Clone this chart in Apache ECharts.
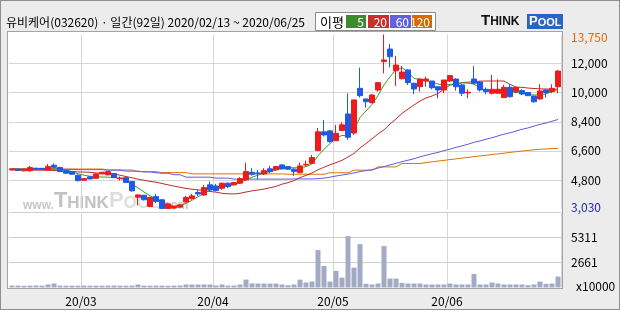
<!DOCTYPE html>
<html><head><meta charset="utf-8">
<script src="https://cdn.jsdelivr.net/npm/echarts@6/dist/echarts.min.js"></script>
<style>
html,body{margin:0;padding:0;background:#ececec;}
#wrap{position:relative;width:620px;height:310px;overflow:hidden;}
#outer{position:absolute;left:0;top:0;width:618px;height:308px;border:1px solid #8e8e8e;background:#ececec;}
#frame{position:absolute;left:7px;top:31px;width:554px;height:256px;border:1px solid #a4a4a4;background:#fff;}
#c{position:absolute;left:0;top:0;width:620px;height:310px;}
</style>
</head><body><div id="wrap"><div id="outer"></div><div id="frame"></div><div id="c"></div></div>
<script>
const dates = [
'2020-02-13','2020-02-14','2020-02-17','2020-02-18','2020-02-19','2020-02-20','2020-02-21','2020-02-24','2020-02-25','2020-02-26','2020-02-27','2020-02-28',
'2020-03-02','2020-03-03','2020-03-04','2020-03-05','2020-03-06','2020-03-09','2020-03-10','2020-03-11','2020-03-12','2020-03-13','2020-03-16','2020-03-17','2020-03-18','2020-03-19','2020-03-20','2020-03-23','2020-03-24','2020-03-25','2020-03-26','2020-03-27','2020-03-30','2020-03-31',
'2020-04-01','2020-04-02','2020-04-03','2020-04-06','2020-04-07','2020-04-08','2020-04-09','2020-04-10','2020-04-13','2020-04-14','2020-04-16','2020-04-17','2020-04-20','2020-04-21','2020-04-22','2020-04-23','2020-04-24','2020-04-27','2020-04-28','2020-04-29',
'2020-05-04','2020-05-06','2020-05-07','2020-05-08','2020-05-11','2020-05-12','2020-05-13','2020-05-14','2020-05-15','2020-05-18','2020-05-19','2020-05-20','2020-05-21','2020-05-22','2020-05-25','2020-05-26','2020-05-27','2020-05-28','2020-05-29',
'2020-06-01','2020-06-02','2020-06-03','2020-06-04','2020-06-05','2020-06-08','2020-06-09','2020-06-10','2020-06-11','2020-06-12','2020-06-15','2020-06-16','2020-06-17','2020-06-18','2020-06-19','2020-06-22','2020-06-23','2020-06-24','2020-06-25'];

const opens = [5430,5480,5380,5380,5540,5530,5440,5720,5580,5390,
5330,5110,4800,5010,4920,5190,5130,5210,4900,4960,
4720,3760,3880,3190,3800,3600,3070,3090,3150,3470,
3680,4050,3900,4520,4450,4310,4620,4520,4620,4820,
5290,5250,5190,5500,5440,5740,5640,5480,5270,5740,
5840,6620,7770,7830,7230,7850,8870,7700,10440,9790,
9560,10340,12080,12850,11520,11030,11570,10750,10540,10890,
10890,10540,10340,10890,11010,10650,10160,11010,10830,10380,
10140,10140,9870,10500,10240,10300,10180,9970,9790,10340,
10240,10540];
const closes = [5500,5400,5470,5580,5480,5470,5640,5600,5330,5230,
5170,4780,4900,4880,5190,5290,5330,4970,4940,4660,
4150,3900,3600,3740,3500,3070,3350,3190,3290,3740,
3840,3960,4350,4210,4170,4620,4410,4660,4900,5330,
5170,5210,5390,5330,5640,5500,5480,5330,5680,5780,
6190,7770,7580,7170,7680,8200,7440,9730,9990,9620,
10030,10790,12180,12380,11870,11440,10790,10400,11010,11010,
10480,10340,10950,11220,10540,10140,10200,10750,10340,10240,
10380,10380,10500,9930,10500,10090,9990,9620,10280,10180,
10440,11500];
const lows = [5410,5370,5350,5330,5460,5450,5390,5540,5310,5210,
5150,4720,4780,4860,4900,5170,5110,4950,4780,4640,
4110,3250,3560,3150,3390,3030,3050,3060,3130,3430,
3600,3840,3840,4110,4110,4210,4310,4480,4580,4780,
5070,4860,5130,5230,5370,5440,5440,5070,5230,5640,
5800,6600,7480,7110,7210,7830,7280,7580,9870,9260,
9520,10240,11360,11730,10590,10990,10650,10090,10240,10540,
10380,9830,10140,10850,10300,9970,9830,10690,10240,10070,
10070,10130,9870,9870,10140,10030,9970,9560,9730,9870,
10140,10140];
const highs = [5520,5500,5500,5680,5560,5550,5800,5840,5600,5410,
5350,5150,4920,5030,5210,5310,5350,5230,5030,4990,
4740,3940,3900,3800,3960,3640,3380,3210,3310,3840,
3960,4210,4520,4720,4580,4660,4660,4700,4990,5880,
5540,5440,5540,5680,5680,5780,5660,5540,5890,6010,
6360,8010,8500,7890,8200,8360,10130,9750,11710,9790,
10100,10800,13750,13160,12420,11810,11610,10790,11060,11160,
10890,10540,10960,11260,11050,10690,10380,11810,10890,10500,
11260,10990,10650,10690,10540,10380,10200,9970,10690,10380,
10690,11570];

const ma5 = [5480,5470,5470,5490,5480,5480,5530,5550,5500,5450,
5320,5200,5110,5050,5020,5000,4990,4960,4920,4800,
4560,4330,4080,3850,3650,3420,3300,3220,3230,3380,
3570,3790,3990,4190,4270,4360,4440,4530,4640,4830,
4990,5110,5230,5330,5440,5520,5580,5560,5580,5630,
5800,6300,6700,7050,7400,7550,7520,7900,8650,9050,
9450,10000,10650,11150,11600,11700,11450,11050,10980,10900,
10840,10700,10650,10680,10720,10780,10760,10700,10450,10330,
10300,10330,10330,10250,10180,10170,10080,10030,10060,10100,
10230,10380];
const ma20 = [5440,5440,5440,5430,5420,5420,5410,5400,5370,5350,
5340,5310,5300,5290,5250,5240,5220,5180,5110,5030,
4950,4870,4800,4730,4680,4600,4520,4440,4370,4300,
4250,4210,4170,4110,4070,4000,3970,3960,4000,4080,
4150,4200,4260,4340,4420,4560,4650,4780,4960,5100,
5250,5440,5600,5750,5880,6020,6230,6450,6780,7050,
7340,7640,7900,8250,8560,8900,9170,9420,9660,9850,
9970,10120,10400,10640,10720,10780,10820,10850,10880,10890,
10890,10890,10890,10680,10520,10500,10460,10430,10410,10400,
10390,10380];
const ma60 = [5480,5480,5480,5480,5480,5480,5470,5470,5470,5470,
5470,5450,5450,5450,5450,5450,5420,5420,5420,5360,
5360,5360,5310,5310,5260,5230,5230,5140,5140,4990,
4990,4990,4990,4990,4930,4930,4930,4870,4870,4870,
4870,4870,4870,4870,4870,4870,4870,4880,4880,4880,
4880,4900,4930,4990,5060,5120,5180,5250,5330,5390,
5440,5550,5640,5740,5840,5940,6030,6120,6240,6330,
6430,6510,6620,6710,6820,6910,7010,7130,7210,7320,
7410,7520,7630,7710,7820,7930,8010,8120,8230,8310,
8420,8530];
const ma120 = [5510,5510,5510,5510,5510,5510,5510,5510,5490,5490,
5490,5490,5490,5490,5490,5490,5430,5430,5430,5430,
5430,5330,5330,5330,5330,5270,5270,5270,5270,5270,
5190,5190,5190,5190,5190,5190,5190,5190,5190,5190,
5190,5190,5190,5190,5190,5190,5170,5170,5170,5170,
5170,5170,5170,5260,5260,5260,5260,5420,5420,5420,
5420,5620,5620,5620,5620,5830,5830,5830,5830,5880,
5930,5980,6020,6070,6110,6160,6200,6250,6290,6330,
6380,6420,6460,6510,6550,6590,6630,6670,6700,6720,
6740,6760];

const volumes = [210,200,190,200,210,200,320,420,200,190,
200,190,200,190,200,190,200,210,200,190,
200,320,200,190,200,200,190,200,210,320,
320,310,320,320,210,320,200,210,320,840,
430,420,420,410,420,320,240,320,830,530,
630,3970,2280,630,1760,1050,5440,2110,4600,390,
320,420,4390,950,950,490,420,420,420,320,
320,320,320,420,320,320,320,1440,320,320,
530,420,320,320,320,320,250,320,630,390,
420,1160];

const priceTickLabels = ['3,030','4,800','6,600','8,400','10,000','12,000','13,750'];
const priceMin = 3030, priceMax = 13750;
const volTickLabels = ['x10000','2661','5311',''];
const volStep = 2650;
const maNames = ['5','20','60','120'];
const maColors = ['#3d9a22','#c22a2a','#6658e0','#e07400'];
const maBoxColors = ['#3d8b2a','#c8302c','#6060e0','#d96b00'];

const monthStarts = [];
for (let i = 1; i < dates.length; i++) {
  if (dates[i].slice(5,7) !== dates[i-1].slice(5,7)) monthStarts.push(i);
}
const isMonthStart = (idx) => monthStarts.indexOf(idx) >= 0;

const kData = opens.map((o, i) => [o, closes[i], lows[i], highs[i]]);

const FONT = "'Noto Sans CJK KR','Noto Sans',sans-serif";
const chart = echarts.init(document.getElementById('c'), null, {renderer: 'canvas'});

const legendEls = [];
legendEls.push({type:'rect', shape:{x:315.5,y:12.5,width:120,height:18}, style:{fill:'#fff',stroke:'#8a8a8a',lineWidth:1}});
legendEls.push({type:'text', x:320, y:22, style:{text:'이평', font:'13px '+FONT, fill:'#000', verticalAlign:'middle'}});
const boxX = [346,368,390,412];
const boxW = [20,21,21,20];
maNames.forEach((n, k) => {
  legendEls.push({type:'rect', shape:{x:boxX[k], y:15, width:boxW[k], height:13}, style:{fill:maBoxColors[k]}});
  legendEls.push({type:'text', x:boxX[k]+boxW[k]-2, y:22, style:{text:n, font:'12px '+FONT, fill:'#fff', align:'right', verticalAlign:'middle'}});
});

const option = {
  animation: false,
  backgroundColor: 'transparent',
  grid: [
    {left: 9, right: 59, top: 34.4, height: 174.7},
    {left: 9, right: 59, top: 212.5, height: 75}
  ],
  xAxis: [
    {type:'category', gridIndex:0, data:dates, boundaryGap:true,
     axisLine:{show:false}, axisTick:{show:false}, axisLabel:{show:false},
     splitLine:{show:true, interval:(idx)=>isMonthStart(idx), lineStyle:{color:'#d6d6d6', width:1}}},
    {type:'category', gridIndex:1, data:dates, boundaryGap:true,
     axisLine:{show:false}, axisTick:{show:false},
     axisLabel:{show:true, interval:(idx)=>isMonthStart(idx), formatter:(v)=>v.slice(2,4)+'/'+v.slice(5,7),
       color:'#000', fontSize:12, fontFamily:FONT, margin:8, padding:[0,6,0,0]},
     splitLine:{show:true, interval:(idx)=>isMonthStart(idx), lineStyle:{color:'#d6d6d6', width:1}}}
  ],
  yAxis: [
    {type:'value', gridIndex:0, min:priceMin, max:priceMax, show:false},
    {type:'value', gridIndex:0, min:0, max:priceTickLabels.length-1, interval:1, position:'right',
     axisLine:{show:false}, axisTick:{show:false},
     splitLine:{show:true, showMinLine:false, showMaxLine:false, lineStyle:{color:'#d6d6d6', width:1}},
     axisLabel:{show:true, margin:10, align:'left', fontSize:12, fontFamily:FONT, color:'#000',
       formatter:(v)=>{const i=Math.round(v); const s=priceTickLabels[i];
         if(i===priceTickLabels.length-1) return '{mx|'+s+'}';
         if(i===0) return '{mn|'+s+'}';
         return '{n|'+s+'}';},
       rich:{mx:{color:'#dd6e10', fontSize:12, fontFamily:FONT, padding:[7,0,0,0]},
             mn:{color:'#1c1cd8', fontSize:12, fontFamily:FONT, padding:[0,0,4,0]},
             n:{color:'#000', fontSize:12, fontFamily:FONT}}}},
    {type:'value', gridIndex:1, min:0, max:volStep*(volTickLabels.length-1), interval:volStep, position:'right',
     axisLine:{show:false}, axisTick:{show:false},
     splitLine:{show:true, showMinLine:false, showMaxLine:true, lineStyle:{color:'#cfcfcf', width:1}},
     axisLabel:{show:true, margin:10, align:'left', fontSize:12, fontFamily:FONT, color:'#000',
       formatter:(v)=>{const i=Math.round(v/volStep); const s=volTickLabels[i]; return i===0?'{u|'+s+'}':s;},
       rich:{u:{fontSize:12, fontFamily:FONT, color:'#000', padding:[0,0,2,5]}}}}
  ],
  graphic: [
    {type:'text', x:6, y:22, style:{text:'유비케어(032620) · 일간(92일) 2020/02/13 ~ 2020/06/25', font:'12px '+FONT, fill:'#000', verticalAlign:'middle'}},
    ...legendEls,
    {type:'text', x:481, y:28, style:{text:'{a|T}{b|HINK}', verticalAlign:'bottom',
      rich:{a:{fontSize:15, fontWeight:'bold', fontFamily:'Liberation Sans', fill:'#111', verticalAlign:'bottom'},
            b:{fontSize:12, fontWeight:'bold', fontFamily:'Liberation Sans', fill:'#111', verticalAlign:'bottom'}}}},
    {type:'rect', shape:{x:527, y:14, width:36, height:15}, style:{fill:'#2b63c6'}},
    {type:'text', x:529, y:28, style:{text:'{a|P}{b|OOL}', verticalAlign:'bottom',
      rich:{a:{fontSize:13, fontWeight:'bold', fontFamily:'Liberation Sans', fill:'#fff', verticalAlign:'bottom'},
            b:{fontSize:11, fontWeight:'bold', fontFamily:'Liberation Sans', fill:'#fff', verticalAlign:'bottom'}}}},
    {type:'text', x:23, y:212, z:-1, style:{text:'{w|www.}{t|T}{h|HINK}{p|P}{q|OOL}{c|.com}', verticalAlign:'bottom',
      rich:{w:{fontSize:12, fontWeight:'bold', fontFamily:'Liberation Sans', fill:'#c6c6c6', verticalAlign:'bottom'},
            t:{fontSize:22, fontWeight:'bold', fontFamily:'Liberation Sans', fill:'#c2c2c2', verticalAlign:'bottom'},
            h:{fontSize:17, fontWeight:'bold', fontFamily:'Liberation Sans', fill:'#c2c2c2', verticalAlign:'bottom'},
            p:{fontSize:22, fontWeight:'bold', fontFamily:'Liberation Sans', fill:'#dedede', verticalAlign:'bottom'},
            q:{fontSize:17, fontWeight:'bold', fontFamily:'Liberation Sans', fill:'#dedede', verticalAlign:'bottom'},
            c:{fontSize:12, fontWeight:'bold', fontFamily:'Liberation Sans', fill:'#c6c6c6', verticalAlign:'bottom'}}}}
  ],
  series: [
    {name:'MA120', type:'line', xAxisIndex:0, yAxisIndex:0, data:ma120, symbol:'none', lineStyle:{color:maColors[3], width:1}, z:2},
    {name:'MA60', type:'line', xAxisIndex:0, yAxisIndex:0, data:ma60, symbol:'none', lineStyle:{color:maColors[2], width:1}, z:2},
    {name:'MA20', type:'line', xAxisIndex:0, yAxisIndex:0, data:ma20, symbol:'none', lineStyle:{color:maColors[1], width:1}, z:2},
    {name:'MA5', type:'line', xAxisIndex:0, yAxisIndex:0, data:ma5, symbol:'none', lineStyle:{color:maColors[0], width:1}, z:2},
    {name:'K', type:'candlestick', xAxisIndex:0, yAxisIndex:0, data:kData, barWidth:5, z:3,
     itemStyle:{color:'#f01a1a', color0:'#1f5ae6', borderColor:'#f01a1a', borderColor0:'#1f5ae6', borderWidth:1}},
    {name:'Vol', type:'bar', xAxisIndex:1, yAxisIndex:2, data:volumes, barWidth:5, itemStyle:{color:'#a2aac4'}}
  ]
};
chart.setOption(option);
</script>
</body></html>
